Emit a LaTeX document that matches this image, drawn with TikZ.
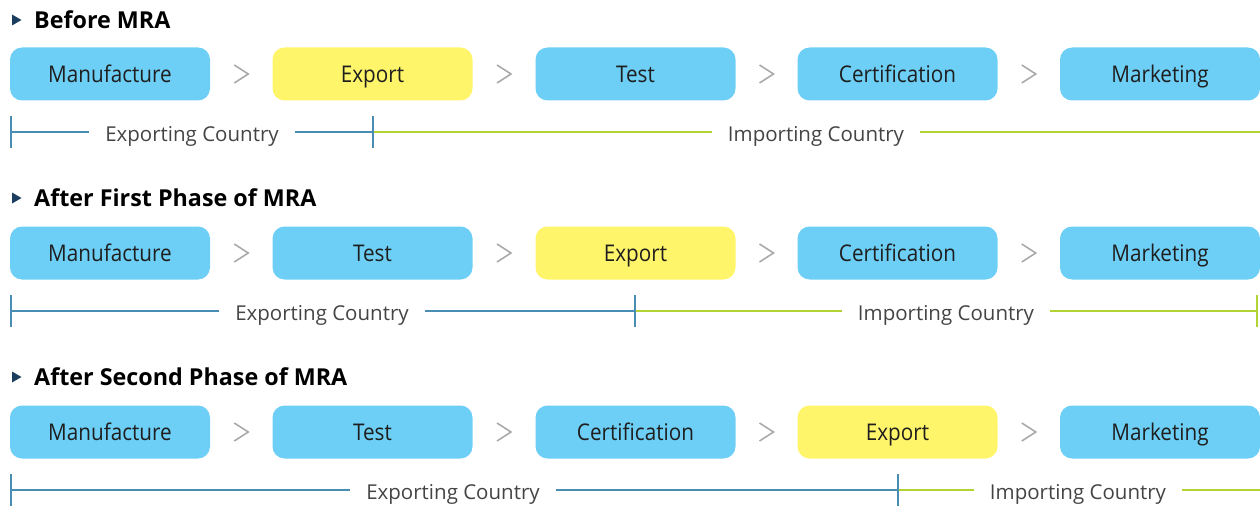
\documentclass[tikz,border=0pt]{standalone}
\usepackage{fontspec}
\setmainfont{Open Sans}
\newfontfamily\boxfont[FakeStretch=0.9]{Open Sans}
\usetikzlibrary{calc}
\definecolor{boxblue}{HTML}{6DCFF6}
\definecolor{boxyellow}{HTML}{FFF56B}
\definecolor{chev}{HTML}{AAAAAA}
\definecolor{expline}{HTML}{4A8DB2}
\definecolor{impline}{HTML}{B3D335}
\definecolor{navy}{HTML}{1B3D5E}
\definecolor{txt}{HTML}{1E1E1E}
\definecolor{ltxt}{HTML}{444444}
\begin{document}
\begin{tikzpicture}[x=1pt,y=-1pt,
  stepbox/.style={rounded corners=12pt,minimum width=200pt,minimum height=53pt,inner sep=0pt,fill=boxblue,text=txt,font=\boxfont\fontsize{23}{23}\selectfont,text height=19.5pt,text depth=2pt},
  expbox/.style={stepbox,fill=boxyellow},
  chevron/.style={draw=chev,line width=1.6pt},
  heading/.style={anchor=west,inner sep=0pt,font=\fontsize{23.3}{23.3}\selectfont\bfseries,text=black,text height=18.5pt,text depth=2pt},
  headtri/.style={fill=navy,draw=none},
  tltext/.style={inner xsep=16pt,inner ysep=0pt,text=ltxt,font=\fontsize{20.5}{20.5}\selectfont,text height=19.5pt,text depth=1pt},
  expl/.style={draw=expline,line width=1.3pt},
  impl/.style={draw=impline,line width=1.3pt}
]
\useasboundingbox (0,0) rectangle (1260,508);

% ---------- headings ----------
\foreach \y/\t [count=\i] in {20/Before MRA,198/After First Phase of MRA,377/After Second Phase of MRA}{
  \fill[headtri] (12,\y-5.5) -- (21.5,\y) -- (12,\y+5.5) -- cycle;
  \node[heading] (h\i) at (34,\y) {\t};
}

% ---------- boxes ----------
\def\xa{110}\def\xb{372.5}\def\xc{635.5}\def\xd{897.5}\def\xe{1160}
% row 1
\node[stepbox] (r1a) at (\xa,74) {Manufacture};
\node[expbox]  (r1b) at (\xb,74) {Export};
\node[stepbox] (r1c) at (\xc,74) {Test};
\node[stepbox] (r1d) at (\xd,74) {Certification};
\node[stepbox] (r1e) at (\xe,74) {Marketing};
% row 2
\node[stepbox] (r2a) at (\xa,253) {Manufacture};
\node[stepbox] (r2b) at (\xb,253) {Test};
\node[expbox]  (r2c) at (\xc,253) {Export};
\node[stepbox] (r2d) at (\xd,253) {Certification};
\node[stepbox] (r2e) at (\xe,253) {Marketing};
% row 3
\node[stepbox] (r3a) at (\xa,432) {Manufacture};
\node[stepbox] (r3b) at (\xb,432) {Test};
\node[stepbox] (r3c) at (\xc,432) {Certification};
\node[expbox]  (r3d) at (\xd,432) {Export};
\node[stepbox] (r3e) at (\xe,432) {Marketing};

% ---------- chevrons ----------
\foreach \r in {1,2,3}{
  \foreach \p/\q in {a/b,b/c,c/d,d/e}{
    \coordinate (c\r\p) at ($(r\r\p.east)!0.5!(r\r\q.west)$);
    \draw[chevron] ($(c\r\p)+(-7,-9)$) -- ($(c\r\p)+(7,0)$) -- ($(c\r\p)+(-7,9)$);
  }
}

% ---------- timeline row 1 ----------
\coordinate (t1l) at (11,132);
\coordinate (t1m) at (373,132);
\coordinate (t1r) at (1260,132);
\node[tltext] (e1) at (192,132) {Exporting Country};
\node[tltext] (i1) at (816,132) {Importing Country};
\draw[expl] (t1l) -- (e1.west |- t1l);
\draw[expl] (e1.east |- t1l) -- (t1m);
\draw[impl] (t1m) -- (i1.west |- t1m);
\draw[impl] (i1.east |- t1m) -- (t1r);
\draw[expl] ($(t1l)+(0,-16)$) -- ($(t1l)+(0,16)$);
\draw[expl] ($(t1m)+(0,-16)$) -- ($(t1m)+(0,16)$);

% ---------- timeline row 2 ----------
\coordinate (t2l) at (11,311);
\coordinate (t2m) at (635,311);
\coordinate (t2r) at (1257,311);
\node[tltext] (e2) at (322,311) {Exporting Country};
\node[tltext] (i2) at (946,311) {Importing Country};
\draw[expl] (t2l) -- (e2.west |- t2l);
\draw[expl] (e2.east |- t2l) -- (t2m);
\draw[impl] (t2m) -- (i2.west |- t2m);
\draw[impl] (i2.east |- t2m) -- (t2r);
\draw[expl] ($(t2l)+(0,-16)$) -- ($(t2l)+(0,16)$);
\draw[expl] ($(t2m)+(0,-16)$) -- ($(t2m)+(0,16)$);
\draw[impl] ($(t2r)+(0,-16)$) -- ($(t2r)+(0,16)$);

% ---------- timeline row 3 ----------
\coordinate (t3l) at (11,490);
\coordinate (t3m) at (898,490);
\coordinate (t3r) at (1260,490);
\node[tltext] (e3) at (453,490) {Exporting Country};
\node[tltext] (i3) at (1078,490) {Importing Country};
\draw[expl] (t3l) -- (e3.west |- t3l);
\draw[expl] (e3.east |- t3l) -- (t3m);
\draw[impl] (t3m) -- (i3.west |- t3m);
\draw[impl] (i3.east |- t3m) -- (t3r);
\draw[expl] ($(t3l)+(0,-16)$) -- ($(t3l)+(0,16)$);
\draw[expl] ($(t3m)+(0,-16)$) -- ($(t3m)+(0,16)$);
\end{tikzpicture}
\end{document}
